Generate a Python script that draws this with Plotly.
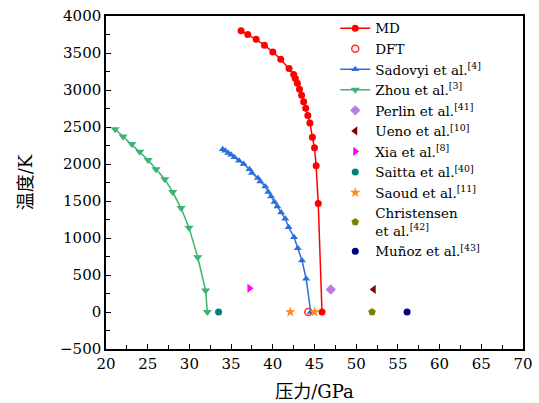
import plotly.graph_objects as go

# MD
md_p = [36.2, 37.0, 38.0, 39.0, 40.0, 40.95, 41.95, 42.5, 42.7, 42.95, 43.2, 43.45, 43.7, 43.95, 44.2, 44.45, 44.75, 45.0, 45.2, 45.45, 45.9]
md_t = [3800, 3750, 3685, 3605, 3515, 3415, 3290, 3210, 3155, 3090, 3010, 2930, 2840, 2755, 2655, 2555, 2360, 2220, 1975, 1465, 0]
# DFT
dft_p = [44.25]
dft_t = [0]
# Sadovyi
sad_p = [34.0, 34.3, 34.65, 35.0, 35.4, 35.95, 36.5, 37.2, 37.5, 38.2, 38.5, 39.1, 39.45, 39.8, 40.2, 40.55, 41.0, 41.5, 41.9, 42.55, 43.0, 43.5, 44.0, 44.55]
sad_t = [2200, 2180, 2150, 2125, 2090, 2045, 2000, 1930, 1880, 1810, 1765, 1695, 1620, 1560, 1485, 1425, 1345, 1260, 1145, 1010, 860, 695, 450, 0]
# Zhou
zhou_p = [21.1, 22.05, 23.1, 24.05, 25.05, 26.0, 27.05, 28.0, 29.0, 29.95, 31.0, 31.95, 32.15]
zhou_t = [2470, 2370, 2270, 2165, 2055, 1930, 1795, 1620, 1405, 1140, 740, 290, 0]
# single references
perlin_p, perlin_t = [46.95], [305]
ueno_p, ueno_t = [52.1], [305]
xia_p, xia_t = [37.2], [320]
saitta_p, saitta_t = [33.5], [0]
saoud_p, saoud_t = [42.1, 45.0], [0, 0]
chris_p, chris_t = [51.9], [0]
munoz_p, munoz_t = [56.1], [0]

x_ticks = [20, 25, 30, 35, 40, 45, 50, 55, 60, 65, 70]
y_ticks = [-500, 0, 500, 1000, 1500, 2000, 2500, 3000, 3500, 4000]

fig = go.Figure()
fig.add_trace(go.Scatter(x=md_p, y=md_t, mode="lines+markers", name="MD",
                         line=dict(color="#ff0000", width=1.5),
                         marker=dict(symbol="circle", size=7, color="#ff0000")))
fig.add_trace(go.Scatter(x=dft_p, y=dft_t, mode="markers", name="DFT",
                         marker=dict(symbol="circle-open", size=7, color="#ff3030", line=dict(width=1.5))))
fig.add_trace(go.Scatter(x=sad_p, y=sad_t, mode="lines+markers", name="Sadovyi et al.<sup>[4]</sup>",
                         line=dict(color="#2a6fdb", width=1.5),
                         marker=dict(symbol="triangle-up", size=7, color="#2a6fdb")))
fig.add_trace(go.Scatter(x=zhou_p, y=zhou_t, mode="lines+markers", name="Zhou et al.<sup>[3]</sup>",
                         line=dict(color="#3cb371", width=1.5),
                         marker=dict(symbol="triangle-down", size=8, color="#3cb371")))
fig.add_trace(go.Scatter(x=perlin_p, y=perlin_t, mode="markers", name="Perlin et al.<sup>[41]</sup>",
                         marker=dict(symbol="diamond", size=8, color="#b57fe3")))
fig.add_trace(go.Scatter(x=ueno_p, y=ueno_t, mode="markers", name="Ueno et al.<sup>[10]</sup>",
                         marker=dict(symbol="triangle-left", size=8, color="#800000")))
fig.add_trace(go.Scatter(x=xia_p, y=xia_t, mode="markers", name="Xia et al.<sup>[8]</sup>",
                         marker=dict(symbol="triangle-right", size=8, color="#ff00ff")))
fig.add_trace(go.Scatter(x=saitta_p, y=saitta_t, mode="markers", name="Saitta et al.<sup>[40]</sup>",
                         marker=dict(symbol="circle", size=7, color="#008080")))
fig.add_trace(go.Scatter(x=saoud_p, y=saoud_t, mode="markers", name="Saoud et al.<sup>[11]</sup>",
                         marker=dict(symbol="star", size=8, color="#ff8c1a")))
fig.add_trace(go.Scatter(x=chris_p, y=chris_t, mode="markers", name="Christensen<br>et al.<sup>[42]</sup>",
                         marker=dict(symbol="pentagon", size=8, color="#808000")))
fig.add_trace(go.Scatter(x=munoz_p, y=munoz_t, mode="markers", name="Muñoz et al.<sup>[43]</sup>",
                         marker=dict(symbol="circle", size=7, color="#000080")))

font_family = "DejaVu Serif, Noto Sans CJK SC"
axis_common = dict(showline=True, linecolor="black", linewidth=1.5, mirror=True,
                   ticks="inside", ticklen=5, tickwidth=1.2, tickcolor="black",
                   showgrid=False, zeroline=False, automargin=False,
                   tickfont=dict(family=font_family, size=15, color="black"))
fig.update_xaxes(range=[20, 70], tickvals=x_ticks, ticktext=[str(v) for v in x_ticks],
                 title=dict(text="压力/GPa", font=dict(family=font_family, size=18, color="black"), standoff=14),
                 minor=dict(ticks="inside", ticklen=4, dtick=2.5, tickcolor="black", tick0=20),
                 **axis_common)
fig.update_yaxes(range=[-500, 4000], tickvals=y_ticks,
                 ticktext=[("\u2212500" if v < 0 else str(v)) for v in y_ticks],
                 title=dict(text="温度/K", font=dict(family=font_family, size=18, color="black"), standoff=23),
                 minor=dict(ticks="inside", ticklen=4, dtick=250, tickcolor="black", tick0=0),
                 **axis_common)
fig.update_layout(width=539, height=403, margin=dict(l=106, r=16, t=16, b=54, autoexpand=False),
                  plot_bgcolor="white", paper_bgcolor="white",
                  font=dict(family=font_family, size=13.5, color="black"),
                  legend=dict(xref="container", yref="container", x=0.622, y=0.968,
                              xanchor="left", yanchor="top",
                              bgcolor="rgba(0,0,0,0)", borderwidth=0, maxheight=400,
                              font=dict(family=font_family, size=13.5, color="black"),
                              tracegroupgap=0, itemwidth=30))
fig.write_html("out.html")
